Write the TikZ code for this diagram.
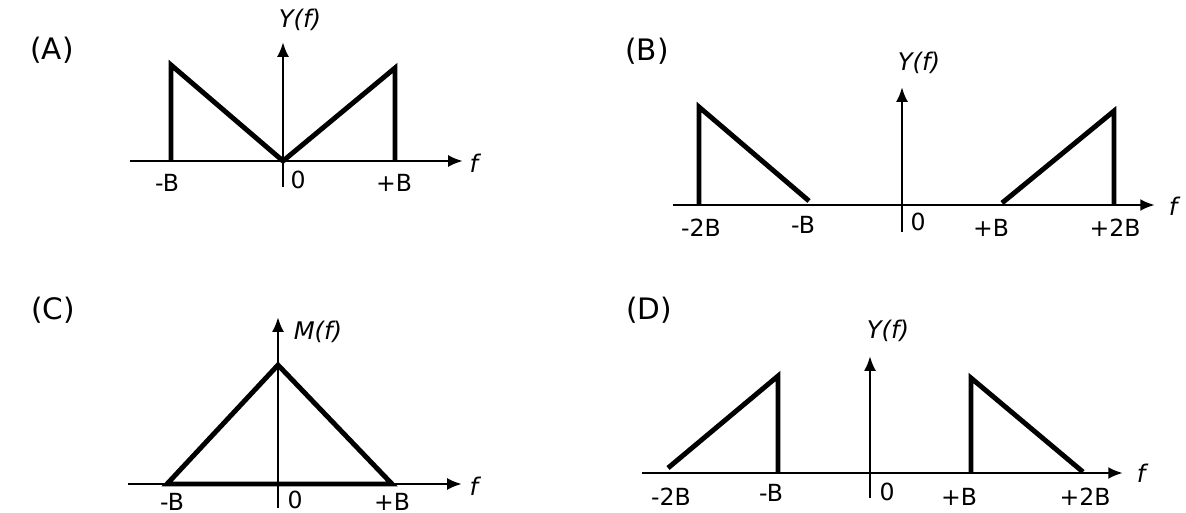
\documentclass[tikz,border=0pt]{standalone}
\usepackage{fontspec}
\setmainfont{DejaVu Sans}
\usetikzlibrary{arrows.meta}
\tikzset{
  axis/.style={line width=0.75pt, -{Latex[length=4.2pt,width=3.4pt]}},
  spec/.style={line width=1.4pt, line join=miter},
  tick/.style={font=\fontsize{6.7}{8}\selectfont, inner sep=0pt},
  fname/.style={font=\fontsize{6.9}{8}\selectfont\itshape, inner sep=0pt},
  panel/.style={font=\fontsize{8.4}{10}\selectfont, inner sep=0pt}
}
\begin{document}
\begin{tikzpicture}[x=0.01cm,y=-0.01cm]
\useasboundingbox (0,0) rectangle (1186,513);

% (A)
\node[panel] (labA) at (52,50) {(A)};
\draw[axis] (130,161) -- (463,161);
\draw[axis] (283,187) -- (283,42);
\draw[spec] (171,161) -- (171,65) -- (283,161) -- (395,68) -- (395,161);
\node[fname] (yA) at (300,20) {Y(f)};
\node[fname] (fA) at (474,163) {f};
\node[tick] (mbA) at (167,183) {-B};
\node[tick] (zA) at (298,180) {0};
\node[tick] (pbA) at (394,183) {+B};

% (B)
\node[panel] (labB) at (647,51) {(B)};
\draw[axis] (673,205) -- (1155,205);
\draw[axis] (902,232) -- (902,87);
\draw[spec] (699,205) -- (699,107) -- (809,201);
\draw[spec] (1002,203) -- (1114,111) -- (1114,205);
\node[fname] (yB) at (919,63) {Y(f)};
\node[fname] (fB) at (1173,206) {f};
\node[tick] (mmB) at (701,228) {-2B};
\node[tick] (mbB) at (803,225) {-B};
\node[tick] (zB) at (918,222) {0};
\node[tick] (pbB) at (991,228) {+B};
\node[tick] (ppB) at (1115,228) {+2B};

% (C)
\node[panel] (labC) at (53,310) {(C)};
\draw[axis] (128,484) -- (462,484);
\draw[axis] (278,508) -- (278,317);
\draw[spec] (167,484) -- (278,365) -- (392,484) -- cycle;
\node[fname] (mC) at (318,332) {M(f)};
\node[fname] (fC) at (474,486) {f};
\node[tick] (mbC) at (172,502) {-B};
\node[tick] (zC) at (295,500) {0};
\node[tick] (pbC) at (392,502) {+B};

% (D)
\node[panel] (labD) at (649,310) {(D)};
\draw[axis] (642,473) -- (1123,473);
\draw[axis] (870,498) -- (870,356);
\draw[spec] (668,468) -- (778,376) -- (778,473);
\draw[spec] (971,473) -- (971,378) -- (1083,472);
\node[fname] (yD) at (888,331) {Y(f)};
\node[fname] (fD) at (1141,473) {f};
\node[tick] (mmD) at (671,497) {-2B};
\node[tick] (mbD) at (771,493) {-B};
\node[tick] (zD) at (887,492) {0};
\node[tick] (pbD) at (959,497) {+B};
\node[tick] (ppD) at (1085,497) {+2B};

\end{tikzpicture}
\end{document}
